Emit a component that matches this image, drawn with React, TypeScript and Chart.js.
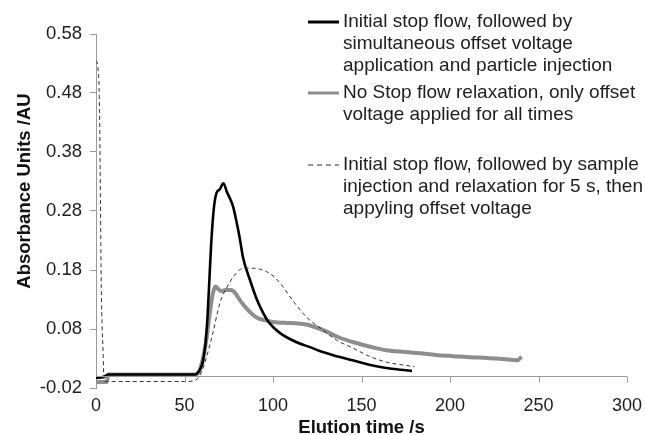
import React, { useEffect, useRef } from "react";
import { Chart, registerables } from "chart.js";

Chart.register(...registerables);

// Series 1: initial stop flow + simultaneous offset voltage & injection (black)
const blackTime = [0, 3, 5, 7, 20, 40, 56, 58, 60, 61, 62, 63, 64, 65, 66, 67, 68, 70, 72, 74, 76, 77.5, 79.5, 81.4, 83, 87, 91, 94.5, 98, 104, 113, 122, 126, 136, 145, 155, 164, 172, 178.5];
const blackAbs = [-0.003, -0.002, 0.0, 0.003, 0.003, 0.003, 0.003, 0.008, 0.02, 0.035, 0.06, 0.1, 0.16, 0.22, 0.265, 0.295, 0.31, 0.317, 0.327, 0.312, 0.299, 0.287, 0.26, 0.231, 0.202, 0.163, 0.129, 0.107, 0.09, 0.073, 0.058, 0.048, 0.043, 0.034, 0.027, 0.019, 0.014, 0.011, 0.009];

// Series 2: no stop flow relaxation (grey)
const grayTime = [0, 6, 7, 20, 40, 56, 58, 60, 62, 64, 66, 67.5, 69, 71, 73, 76, 78, 80, 82, 85, 88, 91, 95, 100, 110, 118, 124, 130, 137, 145, 155, 164, 175, 183, 192, 202, 212, 221, 230, 238, 240.5];
const grayAbs = [-0.01, -0.01, 0.003, 0.003, 0.003, 0.003, 0.006, 0.025, 0.055, 0.1, 0.14, 0.152, 0.148, 0.144, 0.146, 0.146, 0.143, 0.135, 0.126, 0.115, 0.106, 0.099, 0.095, 0.092, 0.09, 0.088, 0.083, 0.076, 0.066, 0.058, 0.05, 0.044, 0.041, 0.039, 0.036, 0.034, 0.032, 0.031, 0.029, 0.027, 0.033];

// Series 3: stop flow, injection, 5 s relaxation, then offset voltage (dashed)
const dashTime = [0, 1, 2, 2.5, 3, 4, 4.6, 6, 10, 30, 50, 55, 58, 60, 62.5, 66, 70, 74, 77.5, 81, 85, 89, 93, 96.5, 100, 104, 111, 119, 126.5, 136, 145, 155, 164, 173.5, 180];
const dashAbs = [0.535, 0.525, 0.45, 0.3, 0.15, 0.04, -0.009, -0.009, -0.009, -0.009, -0.009, -0.008, -0.002, 0.01, 0.033, 0.073, 0.124, 0.151, 0.168, 0.18, 0.183, 0.183, 0.181, 0.177, 0.17, 0.158, 0.129, 0.1, 0.082, 0.061, 0.048, 0.033, 0.024, 0.019, 0.016];

const yTickValues = [-0.02, 0.08, 0.18, 0.28, 0.38, 0.48, 0.58];
const xTickStep = 50;
const xMin = 0;
const xMax = 300;

const legendLabels = [
  ["Initial stop flow, followed by", "simultaneous offset voltage", "application and particle injection"],
  ["No Stop flow relaxation, only offset", "voltage applied for all times"],
  ["Initial stop flow, followed by sample", "injection and relaxation for 5 s, then", "appyling offset voltage"],
];
const xTitle = "Elution time /s";
const yTitle = "Absorbance Units /AU";

const FONT = "'Liberation Sans', Arial, Helvetica, sans-serif";
const TEXT = "#1e1e1e";
const AXIS = "#9a9a9a";

const toPoints = (t: number[], v: number[]) => t.map((x, i) => ({ x, y: v[i] }));

const extrasPlugin = {
  id: "extras",
  afterDraw(chart: any) {
    const { ctx, chartArea, scales } = chart;
    const xs = scales.x;
    const ys = scales.y;
    ctx.save();
    // zero axis line with tick marks
    const y0 = Math.round(ys.getPixelForValue(0)) + 0.5;
    ctx.strokeStyle = AXIS;
    ctx.lineWidth = 1;
    ctx.beginPath();
    ctx.moveTo(chartArea.left, y0);
    ctx.lineTo(chartArea.right, y0);
    for (let v = xMin + xTickStep; v <= xMax; v += xTickStep) {
      const px = Math.round(xs.getPixelForValue(v)) + 0.5;
      ctx.moveTo(px, y0);
      ctx.lineTo(px, y0 + 6);
    }
    ctx.stroke();

    // axis titles
    ctx.fillStyle = "#111";
    ctx.font = `bold 18.5px ${FONT}`;
    ctx.textAlign = "center";
    ctx.textBaseline = "middle";
    ctx.fillText(xTitle, (chartArea.left + chartArea.right) / 2, 428);
    ctx.save();
    ctx.translate(25, 191);
    ctx.rotate(-Math.PI / 2);
    ctx.fillText(yTitle, 0, 0);
    ctx.restore();

    // legend
    const sx0 = 308, sx1 = 339, tx = 343, lh = 22;
    const starts = [22, 93, 165];
    const styles = [
      { color: "#000", width: 3, dash: [] as number[] },
      { color: "#8e8e8e", width: 3, dash: [] as number[] },
      { color: "#333", width: 1, dash: [5, 4] },
    ];
    ctx.font = `19px ${FONT}`;
    ctx.textAlign = "left";
    legendLabels.forEach((lines, i) => {
      const st = styles[i];
      ctx.strokeStyle = st.color;
      ctx.lineWidth = st.width;
      ctx.setLineDash(st.dash);
      ctx.beginPath();
      ctx.moveTo(sx0, starts[i]);
      ctx.lineTo(sx1, starts[i]);
      ctx.stroke();
      ctx.setLineDash([]);
      ctx.fillStyle = TEXT;
      lines.forEach((ln, j) => ctx.fillText(ln, tx, starts[i] + j * lh));
    });
    ctx.restore();
  },
};

export default function App() {
  const ref = useRef<HTMLCanvasElement | null>(null);
  useEffect(() => {
    if (!ref.current) return;
    const chart = new Chart(ref.current, {
      type: "line",
      data: {
        datasets: [
          {
            label: "dashed",
            data: toPoints(dashTime, dashAbs),
            borderColor: "#333",
            borderWidth: 1,
            borderDash: [4, 3],
            pointRadius: 0,
            cubicInterpolationMode: "monotone",
            order: 0,
          },
          {
            label: "black",
            data: toPoints(blackTime, blackAbs),
            borderColor: "#000",
            borderWidth: 2.6,
            pointRadius: 0,
            cubicInterpolationMode: "monotone",
            order: 1,
          },
          {
            label: "gray",
            data: toPoints(grayTime, grayAbs),
            borderColor: "#8e8e8e",
            borderWidth: 4,
            pointRadius: 0,
            cubicInterpolationMode: "monotone",
            order: 2,
          },
        ],
      },
      options: {
        responsive: false,
        animation: false,
        layout: { padding: { top: 34, right: 18, left: 0, bottom: 0 } },
        plugins: { legend: { display: false }, tooltip: { enabled: false } },
        scales: {
          x: {
            type: "linear",
            min: xMin,
            max: xMax,
            border: { display: false },
            grid: { display: false },
            ticks: {
              stepSize: xTickStep,
              padding: -1,
              maxRotation: 0,
              color: TEXT,
              font: { family: FONT, size: 18 },
            },
            afterFit: (s: any) => {
              s.height = 47;
            },
          },
          y: {
            type: "linear",
            min: yTickValues[0],
            max: yTickValues[yTickValues.length - 1],
            border: { display: true, color: AXIS, width: 1 },
            grid: { display: true, drawOnChartArea: false, drawTicks: true, tickLength: 6, color: AXIS },
            ticks: {
              padding: 8,
              color: TEXT,
              font: { family: FONT, size: 18.5 },
              callback: (v: any) => Number(v).toFixed(2),
            },
            afterBuildTicks: (s: any) => {
              s.ticks = yTickValues.map((value) => ({ value }));
            },
            afterFit: (s: any) => {
              s.width = 96;
            },
          },
        },
      },
      plugins: [extrasPlugin],
    } as any);
    return () => chart.destroy();
  }, []);
  return (
    <div style={{ position: "fixed", left: 0, top: 0, width: 645, height: 435, background: "#fff" }}>
      <canvas ref={ref} width={645} height={435} style={{ width: 645, height: 435, display: "block" }} />
    </div>
  );
}
